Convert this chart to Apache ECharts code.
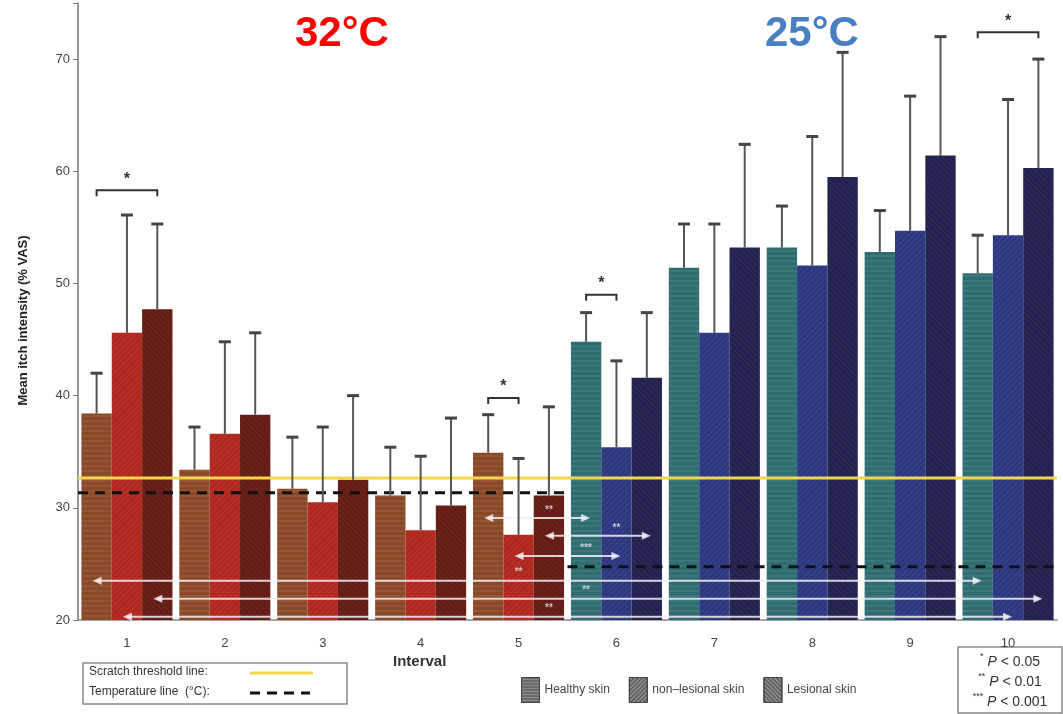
<!DOCTYPE html>
<html>
<head>
<meta charset="utf-8">
<title>Mean itch intensity</title>
<script src="https://cdn.jsdelivr.net/npm/echarts@6/dist/echarts.min.js"></script>
<style>
html, body { margin: 0; padding: 0; background: #fff; }
#main { width: 1063px; height: 714px; }
</style>
</head>
<body>
<div id="main"></div>
<script>
// intervals 1-5 at 32°C, 6-10 at 25°C
var intervals = ['1', '2', '3', '4', '5', '6', '7', '8', '9', '10'];
var healthyMean = [38.4, 33.4, 31.7, 31.1, 34.9, 44.8, 51.4, 53.2, 52.8, 50.9];
var healthyTop = [42.0, 37.2, 36.3, 35.4, 38.3, 47.4, 55.3, 56.9, 56.5, 54.3];
var nonLesMean = [45.6, 36.6, 30.5, 28.0, 27.6, 35.4, 45.6, 51.6, 54.7, 54.3];
var nonLesTop = [56.1, 44.8, 37.2, 34.6, 34.4, 43.1, 55.3, 63.1, 66.7, 66.4];
var lesMean = [47.7, 38.3, 32.5, 30.2, 31.1, 41.6, 53.2, 59.5, 61.4, 60.3];
var lesTop = [55.3, 45.6, 40.0, 38.0, 39.0, 47.4, 62.4, 70.6, 72.0, 70.0];
var yTicks = [20, 30, 40, 50, 60, 70];

var scratchThreshold = 32.65;
var temp32Line = 31.35;
var temp25Line = 24.75;

// significance brackets: [group, fromBar, toBar, y]
var brackets = [[0, 0, 2, 58.3], [4, 0, 1, 39.8], [5, 0, 1, 49.0], [9, 0, 2, 72.4]];
// comparison arrows: [fromGroup, fromBar, toGroup, toBar, y, label, labelGroup, labelBar]
var comparisons = [
	[4, 0, 5, 0, 29.1, '**', 4, 2],
	[4, 2, 5, 2, 27.5, '**', 5, 1],
	[4, 1, 5, 1, 25.7, '***', 5, 0],
	[0, 0, 9, 0, 23.5, '**', 4, 1],
	[0, 2, 9, 2, 21.9, '**', 5, 0],
	[0, 1, 9, 1, 20.3, '**', 4, 2]
];

var warmColors = ['#8a4826', '#b0271f', '#641c15'];
var coolColors = ['#2e6c72', '#2c3781', '#23214f'];

var BAR_GAP = 0.07;
var BAR_W = (1 - BAR_GAP) / 3;
function slot(g, j) {
	return g + BAR_GAP / 2 + BAR_W * (j + 0.5);
}

function barData(values, j) {
	var out = [];
	for (var i = 0; i < values.length; i++) {
		out.push({
			value : values[i],
			itemStyle : { color : i < 5 ? warmColors[j] : coolColors[j] }
		});
	}
	return out;
}

var errData = [];
var means = [healthyMean, nonLesMean, lesMean];
var tops = [healthyTop, nonLesTop, lesTop];
for (var g = 0; g < intervals.length; g++) {
	for (var j = 0; j < 3; j++) {
		errData.push([g, j, means[j][g], tops[j][g]]);
	}
}

var bracketData = brackets.map(function(b) {
	return [slot(b[0], b[1]), slot(b[0], b[2]), b[3]];
});
var compData = comparisons.map(function(c) {
	return [slot(c[0], c[1]), slot(c[2], c[3]), c[4], slot(c[6], c[7]), c[5]];
});

var decals = [
	{ symbol : 'rect', symbolSize : 1, dashArrayX : [1, 0], dashArrayY : [2, 3], rotation : 0, color : 'rgba(255,255,255,0.07)' },
	{ symbol : 'rect', symbolSize : 1, dashArrayX : [1, 0], dashArrayY : [1, 3], rotation : -Math.PI / 4, color : 'rgba(255,255,255,0.07)' },
	{ symbol : 'rect', symbolSize : 1, dashArrayX : [1, 0], dashArrayY : [1, 3], rotation : Math.PI / 4, color : 'rgba(255,255,255,0.05)' }
];
var legendDecals = [
	{ symbol : 'rect', symbolSize : 1, dashArrayX : [1, 0], dashArrayY : [1, 2], rotation : 0, color : 'rgba(0,0,0,0.45)' },
	{ symbol : 'rect', symbolSize : 1, dashArrayX : [1, 0], dashArrayY : [1, 2], rotation : -Math.PI / 4, color : 'rgba(0,0,0,0.45)' },
	{ symbol : 'rect', symbolSize : 1, dashArrayX : [1, 0], dashArrayY : [1, 2], rotation : Math.PI / 4, color : 'rgba(0,0,0,0.45)' }
];

function renderErr(params, api) {
	var base = api.coord([api.value(0), api.value(2)]);
	var top = api.coord([api.value(0), api.value(3)]);
	var band = api.size([1, 0])[0];
	var x = base[0] + (api.value(1) - 1) * band * BAR_W;
	return {
		type : 'group',
		children : [{
			type : 'line',
			shape : { x1 : x, y1 : base[1], x2 : x, y2 : top[1] },
			style : { stroke : '#555', lineWidth : 2 }
		}, {
			type : 'line',
			shape : { x1 : x - 6, y1 : top[1], x2 : x + 6, y2 : top[1] },
			style : { stroke : '#444', lineWidth : 3 }
		}]
	};
}

function renderBracket(params, api) {
	var a = api.coord([api.value(0), api.value(2)]);
	var b = api.coord([api.value(1), api.value(2)]);
	return {
		type : 'group',
		children : [{
			type : 'polyline',
			shape : { points : [[a[0], a[1] + 6], [a[0], a[1]], [b[0], b[1]], [b[0], b[1] + 6]] },
			style : { stroke : '#333', lineWidth : 2, fill : null }
		}, {
			type : 'text',
			style : {
				text : '*', x : (a[0] + b[0]) / 2, y : a[1] - 3,
				align : 'center', verticalAlign : 'bottom',
				font : 'bold 16px "Liberation Sans"', fill : '#333'
			}
		}]
	};
}

function renderComp(params, api) {
	var a = api.coord([api.value(0), api.value(2)]);
	var b = api.coord([api.value(1), api.value(2)]);
	var l = api.coord([api.value(3), api.value(2)]);
	var col = 'rgba(245,240,246,0.85)';
	return {
		type : 'group',
		children : [{
			type : 'line',
			shape : { x1 : a[0], y1 : a[1], x2 : b[0], y2 : b[1] },
			style : { stroke : col, lineWidth : 2 }
		}, {
			type : 'polygon',
			shape : { points : [[a[0] - 4, a[1]], [a[0] + 5, a[1] - 4], [a[0] + 5, a[1] + 4]] },
			style : { fill : col }
		}, {
			type : 'polygon',
			shape : { points : [[b[0] + 4, b[1]], [b[0] - 5, b[1] - 4], [b[0] - 5, b[1] + 4]] },
			style : { fill : col }
		}, {
			type : 'text',
			style : {
				text : api.value(4), x : l[0], y : l[1] - 8,
				align : 'center', verticalAlign : 'middle',
				font : 'bold 10px "Liberation Sans"', fill : 'rgba(235,225,235,0.8)'
			}
		}]
	};
}

var legendNames = ['Healthy skin', 'non–lesional skin', 'Lesional skin'];

var option = {
	animation : false,
	backgroundColor : '#fff',
	textStyle : { fontFamily : '"Liberation Sans", Arial, sans-serif' },
	title : [{
		text : '32°C', left : 290, top : 8,
		textStyle : { color : '#ff0000', fontSize : 42, fontWeight : 'bold' }
	}, {
		text : '25°C', left : 760, top : 8,
		textStyle : { color : '#4a7fc1', fontSize : 42, fontWeight : 'bold' }
	}],
	legend : {
		data : legendNames.map(function(n, i) {
			return {
				name : n,
				icon : 'rect',
				itemStyle : { color : '#8a8a8a', borderColor : '#444', borderWidth : 1, decal : legendDecals[i] }
			};
		}),
		left : 516, top : 672,
		itemWidth : 18, itemHeight : 25, itemGap : 19,
		textStyle : { fontSize : 12, color : '#444' },
		selectedMode : false
	},
	grid : { left : 78, right : 6, top : 3, bottom : 94 },
	xAxis : [{
		type : 'category',
		data : intervals,
		axisLine : { lineStyle : { color : '#888', width : 1.5 } },
		axisTick : { length : 5, lineStyle : { color : '#888' } },
		axisLabel : { color : '#444', fontSize : 13, margin : 17 }
	}, {
		type : 'value', min : 0, max : 10, show : false
	}],
	yAxis : {
		type : 'value', min : 20, max : 75, interval : 10,
		name : 'Mean itch intensity (% VAS)',
		nameLocation : 'middle', nameGap : 48,
		nameTextStyle : { fontWeight : 'bold', fontSize : 13, color : '#222', padding : [0, 0, 0, -18] },
		axisLine : { show : true, lineStyle : { color : '#777', width : 1.5 } },
		axisTick : { show : true, length : 5, lineStyle : { color : '#777' } },
		axisLabel : {
			color : '#444', fontSize : 13,
			formatter : function(v) { return yTicks.indexOf(v) >= 0 ? v : ''; }
		},
		splitLine : { show : false }
	},
	series : [{
		name : 'Healthy skin', type : 'bar', barGap : '0%', barCategoryGap : '7%',
		itemStyle : { color : '#7c7c7c', decal : decals[0] },
		data : barData(healthyMean, 0), z : 2
	}, {
		name : 'non–lesional skin', type : 'bar', barGap : '0%', barCategoryGap : '7%',
		itemStyle : { color : '#7c7c7c', decal : decals[1] },
		data : barData(nonLesMean, 1), z : 2
	}, {
		name : 'Lesional skin', type : 'bar', barGap : '0%', barCategoryGap : '7%',
		itemStyle : { color : '#7c7c7c', decal : decals[2] },
		data : barData(lesMean, 2), z : 2
	}, {
		name : 'scratch', type : 'line', xAxisIndex : 1, showSymbol : false, silent : true,
		lineStyle : { color : '#f3d64e', width : 3 },
		data : [[0, scratchThreshold], [10, scratchThreshold]], z : 3
	}, {
		name : 'temp32', type : 'line', xAxisIndex : 1, showSymbol : false, silent : true,
		lineStyle : { color : '#111', width : 3, type : [10, 7] },
		data : [[0, temp32Line], [5, temp32Line]], z : 3
	}, {
		name : 'temp25', type : 'line', xAxisIndex : 1, showSymbol : false, silent : true,
		lineStyle : { color : '#111', width : 3, type : [10, 7] },
		data : [[5, temp25Line], [10, temp25Line]], z : 3
	}, {
		name : 'comparisons', type : 'custom', xAxisIndex : 1, silent : true,
		renderItem : renderComp, data : compData, z : 4
	}, {
		name : 'errors', type : 'custom', xAxisIndex : 0, silent : true,
		renderItem : renderErr, data : errData, z : 5
	}, {
		name : 'brackets', type : 'custom', xAxisIndex : 1, silent : true,
		renderItem : renderBracket, data : bracketData, z : 5
	}],
	graphic : [{
		type : 'text', left : 393, top : 654,
		style : { text : 'Interval', font : 'bold 15px "Liberation Sans"', fill : '#333' }
	}, {
		type : 'rect', shape : { x : 83, y : 663, width : 264, height : 41 },
		style : { fill : '#fff', stroke : '#888', lineWidth : 1.5 }
	}, {
		type : 'text', left : 89, top : 666,
		style : { text : 'Scratch threshold line:', font : '12px "Liberation Sans"', fill : '#333' }
	}, {
		type : 'line', shape : { x1 : 250, y1 : 673, x2 : 313, y2 : 673 },
		style : { stroke : '#f3d64e', lineWidth : 3 }
	}, {
		type : 'text', left : 89, top : 686,
		style : { text : 'Temperature line  (°C):', font : '12px "Liberation Sans"', fill : '#333' }
	}, {
		type : 'line', shape : { x1 : 250, y1 : 693, x2 : 310, y2 : 693 },
		style : { stroke : '#111', lineWidth : 3, lineDash : [10, 7] }
	}, {
		type : 'rect', shape : { x : 958, y : 647, width : 104, height : 66 },
		style : { fill : '#fff', stroke : '#888', lineWidth : 1.5 }
	}, {
		type : 'text', x : 1010, y : 652,
		style : {
			text : '{s|*} {i|P} < 0.05\n{s|**} {i|P} < 0.01\n{s|***} {i|P} < 0.001',
			align : 'center', font : '14px "Liberation Sans"', fill : '#333', lineHeight : 20,
			rich : {
				s : { fontSize : 9, verticalAlign : 'top', fill : '#333' },
				i : { fontStyle : 'italic', fontSize : 14, fill : '#333' }
			}
		}
	}]
};

var myChart = echarts.init(document.getElementById('main'));
myChart.setOption(option, true);
</script>
</body>
</html>
